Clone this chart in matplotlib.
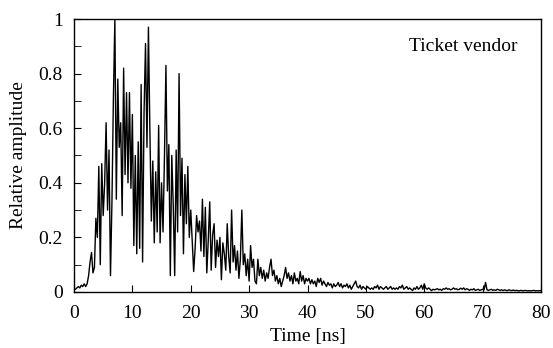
import numpy as np
import matplotlib
matplotlib.use("Agg")
import matplotlib.pyplot as plt
from matplotlib.ticker import MultipleLocator, FuncFormatter

plt.rcParams['font.family'] = ['Liberation Serif', 'DejaVu Serif']

# Time samples every 0.25 ns (4 per ns)
time_step_ns = 0.25
amplitude = [
    0.010, 0.010, 0.015, 0.020,
    0.015, 0.025, 0.020, 0.030,
    0.020, 0.030, 0.060, 0.110,
    0.145, 0.070, 0.090, 0.270,
    0.200, 0.460, 0.100, 0.470,
    0.280, 0.400, 0.620, 0.300,
    0.520, 0.060, 0.330, 0.710,
    1.000, 0.340, 0.780, 0.530,
    0.620, 0.280, 0.820, 0.430,
    0.730, 0.400, 0.730, 0.380,
    0.650, 0.170, 0.500, 0.140,
    0.550, 0.160, 0.760, 0.110,
    0.660, 0.910, 0.530, 0.970,
    0.590, 0.260, 0.480, 0.180,
    0.440, 0.220, 0.610, 0.180,
    0.400, 0.220, 0.500, 0.830,
    0.370, 0.540, 0.060, 0.500,
    0.320, 0.060, 0.520, 0.220,
    0.800, 0.280, 0.490, 0.140,
    0.430, 0.250, 0.460, 0.200,
    0.300, 0.190, 0.075, 0.160,
    0.280, 0.220, 0.260, 0.150,
    0.340, 0.130, 0.310, 0.070,
    0.190, 0.330, 0.080, 0.210,
    0.250, 0.090, 0.190, 0.130,
    0.200, 0.045, 0.180, 0.140,
    0.080, 0.250, 0.130, 0.070,
    0.300, 0.110, 0.170, 0.080,
    0.150, 0.050, 0.120, 0.300,
    0.100, 0.140, 0.060, 0.120,
    0.040, 0.170, 0.090, 0.120,
    0.040, 0.030, 0.120, 0.060,
    0.090, 0.050, 0.080, 0.040,
    0.070, 0.050, 0.090, 0.120,
    0.060, 0.080, 0.040, 0.060,
    0.030, 0.050, 0.020, 0.040,
    0.060, 0.090, 0.050, 0.070,
    0.040, 0.060, 0.030, 0.070,
    0.040, 0.050, 0.030, 0.075,
    0.040, 0.060, 0.030, 0.050,
    0.040, 0.050, 0.030, 0.045,
    0.030, 0.040, 0.020, 0.050,
    0.035, 0.050, 0.025, 0.040,
    0.030, 0.020, 0.035, 0.025,
    0.030, 0.015, 0.030, 0.020,
    0.025, 0.035, 0.020, 0.030,
    0.015, 0.025, 0.020, 0.030,
    0.015, 0.025, 0.010, 0.020,
    0.030, 0.040, 0.020, 0.015,
    0.025, 0.010, 0.020, 0.015,
    0.010, 0.020, 0.015, 0.010,
    0.015, 0.010, 0.020, 0.015,
    0.025, 0.010, 0.020, 0.015,
    0.010, 0.015, 0.020, 0.010,
    0.015, 0.020, 0.010, 0.015,
    0.010, 0.015, 0.010, 0.020,
    0.015, 0.025, 0.010, 0.015,
    0.020, 0.010, 0.015, 0.010,
    0.005, 0.015, 0.010, 0.020,
    0.010, 0.015, 0.025, 0.010,
    0.030, 0.015, 0.010, 0.015,
    0.010, 0.005, 0.010, 0.008,
    0.010, 0.012, 0.008, 0.010,
    0.006, 0.012, 0.010, 0.015,
    0.010, 0.012, 0.008, 0.010,
    0.015, 0.010, 0.012, 0.008,
    0.010, 0.014, 0.010, 0.015,
    0.008, 0.012, 0.010, 0.006,
    0.010, 0.008, 0.012, 0.006,
    0.008, 0.010, 0.006, 0.008,
    0.010, 0.008, 0.035, 0.008,
    0.006, 0.008, 0.010, 0.006,
    0.008, 0.006, 0.010, 0.008,
    0.006, 0.008, 0.005, 0.008,
    0.006, 0.005, 0.008, 0.006,
    0.005, 0.007, 0.005, 0.006,
    0.005, 0.004, 0.006, 0.005,
    0.004, 0.006, 0.005, 0.004,
    0.005, 0.004, 0.005, 0.006,
    0.004, 0.005, 0.004, 0.005,
    0.005,
]
time_ns = np.arange(len(amplitude)) * time_step_ns

x_ticks = [0, 10, 20, 30, 40, 50, 60, 70, 80]
y_ticks = [0, 0.2, 0.4, 0.6, 0.8, 1.0]
label_text = "Ticket vendor"

fig = plt.figure(figsize=(5.53, 3.48), dpi=100)
ax = fig.add_axes([74/553, 1-292/348, (541-74)/553, (292-19)/348])

ax.plot(time_ns, amplitude, color='black', lw=1.0)

ax.set_xlim(0, 80)
ax.set_ylim(0, 1)
ax.set_xticks(x_ticks)
ax.set_yticks(y_ticks)
ax.yaxis.set_minor_locator(MultipleLocator(0.1))
ax.yaxis.set_major_formatter(FuncFormatter(lambda v, p: f"{v:g}"))
ax.tick_params(axis='both', which='both', direction='in', labelsize=14,
               top=False, right=False)
ax.tick_params(axis='y', which='major', length=5, pad=8)
ax.tick_params(axis='y', which='minor', length=5)
ax.tick_params(axis='x', which='major', length=5, pad=9)
for s in ax.spines.values():
    s.set_linewidth(1.0)

ax.set_xlabel("Time [ns]", fontsize=14, labelpad=5)
ax.set_ylabel("Relative amplitude", fontsize=14, labelpad=8)
ax.text(0.95, 0.90, label_text, transform=ax.transAxes, ha='right', va='center',
        fontsize=14)

fig.savefig("out.png", dpi=100)
